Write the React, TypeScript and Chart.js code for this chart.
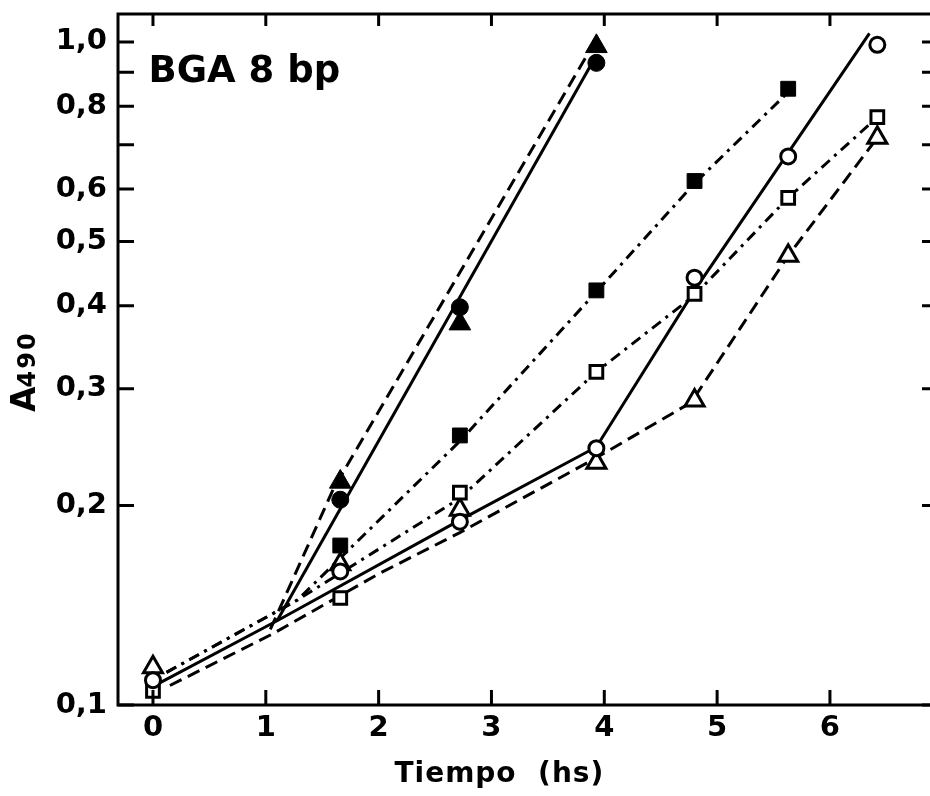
import React, { useEffect, useRef } from "react";
import { Chart, registerables } from "chart.js";

Chart.register(...registerables);

// ---- axis ticks ----
const xTickValues = [0, 1, 2, 3, 4, 5, 6];
const yTickValues = [0.1, 0.2, 0.3, 0.4, 0.5, 0.6, 0.7, 0.8, 0.9, 1.0];
const yTickLabels: Record<string, string> = {
  "0.1": "0,1",
  "0.2": "0,2",
  "0.3": "0,3",
  "0.4": "0,4",
  "0.5": "0,5",
  "0.6": "0,6",
  "0.8": "0,8",
  "1.0": "1,0",
};

// ---- measured points (markers) ----
const xOpen = [0, 1.66, 2.72, 3.93, 4.8, 5.63, 6.42];
const openCircleY = [0.109, 0.159, 0.189, 0.244, 0.441, 0.672, 0.99];
const openSquareY = [0.105, 0.145, 0.209, 0.318, 0.417, 0.582, 0.77];
const openTriangleY = [0.114, 0.163, 0.197, 0.232, 0.288, 0.476, 0.717];

const xFilled = [1.66, 2.72, 3.93];
const filledCircleY = [0.204, 0.398, 0.93];
const filledTriangleY = [0.217, 0.376, 0.985];

const xFilledSquare = [1.66, 2.72, 3.93, 4.8, 5.63];
const filledSquareY = [0.174, 0.255, 0.422, 0.617, 0.85];

// ---- drawn curves (vertices) ----
const solidOpenX = [0.06, 1.1, 2.72, 3.93, 4.8, 6.35];
const solidOpenY = [0.108, 0.134, 0.19, 0.245, 0.422, 1.03];
const solidFilledX = [1.1, 3.9];
const solidFilledY = [0.134, 0.935];

const dashedOpenX = [0.15, 1.06, 2.01, 2.72, 3.93, 4.77, 5.63, 6.42];
const dashedOpenY = [0.107, 0.128, 0.158, 0.182, 0.236, 0.286, 0.476, 0.717];
const dashedFilledX = [1.04, 1.6, 3.9];
const dashedFilledY = [0.13, 0.212, 0.99];

const dashDotFilledX = [0.12, 1.28, 2.72, 3.93, 4.8, 5.63];
const dashDotFilledY = [0.112, 0.144, 0.25, 0.42, 0.612, 0.84];
const dashDotOpenX = [0.12, 1.28, 2.72, 3.93, 4.8, 5.63, 6.42];
const dashDotOpenY = [0.112, 0.144, 0.205, 0.318, 0.415, 0.582, 0.77];

const toPts = (xs: number[], ys: number[]) => xs.map((x, i) => ({ x, y: ys[i] }));

const DASH = [13, 7];
const DASHDOT = [11, 6, 3, 6];

const tickFont = { family: "'DejaVu Sans', sans-serif", size: 29, weight: "bold" as const };

const framePlugin = {
  id: "framePlugin",
  afterDraw(chart: any) {
    const { ctx, chartArea: a, scales } = chart;
    const xs = scales.x;
    const ys = scales.y;
    ctx.save();
    ctx.strokeStyle = "#000";
    ctx.lineWidth = 3;
    ctx.beginPath();
    ctx.moveTo(a.left, a.top);
    ctx.lineTo(a.right, a.top);
    ctx.lineTo(a.right, a.bottom);
    ctx.lineTo(a.left, a.bottom);
    ctx.closePath();
    ctx.stroke();

    ctx.beginPath();
    xTickValues.forEach((v) => {
      const px = xs.getPixelForValue(v);
      ctx.moveTo(px, a.bottom);
      ctx.lineTo(px, a.bottom - 15);
      ctx.moveTo(px, a.top);
      ctx.lineTo(px, a.top + 12);
    });
    yTickValues.forEach((v) => {
      const py = ys.getPixelForValue(v);
      ctx.moveTo(a.left, py);
      ctx.lineTo(a.left + 16, py);
      ctx.moveTo(a.right, py);
      ctx.lineTo(a.right - 14, py);
    });
    ctx.stroke();

    ctx.fillStyle = "#000";
    // panel title
    ctx.font = "bold 37px 'DejaVu Sans', sans-serif";
    ctx.textAlign = "left";
    ctx.textBaseline = "alphabetic";
    ctx.fillText("BGA 8 bp", xs.getPixelForValue(-0.04), 82);

    // x axis title
    ctx.font = "bold 28px 'DejaVu Sans', sans-serif";
    (ctx as any).letterSpacing = "1px";
    ctx.textAlign = "center";
    ctx.fillText("Tiempo  (hs)", xs.getPixelForValue(3.07), 782);
    (ctx as any).letterSpacing = "0px";

    // y axis title A490 (rotated)
    ctx.translate(35, 412);
    ctx.rotate(-Math.PI / 2);
    ctx.textAlign = "left";
    ctx.font = "bold 33px 'DejaVu Sans', sans-serif";
    ctx.fillText("A", 0, 0);
    const wA = ctx.measureText("A").width;
    ctx.font = "bold 24px 'DejaVu Sans', sans-serif";
    (ctx as any).letterSpacing = "2px";
    ctx.fillText("490", wA - 1, 0);
    (ctx as any).letterSpacing = "0px";
    ctx.restore();
  },
};

export default function App() {
  const ref = useRef<HTMLCanvasElement | null>(null);

  useEffect(() => {
    const canvas = ref.current;
    if (!canvas) return;

    const lineDs = (xs: number[], ys: number[], dash: number[]) => ({
      data: toPts(xs, ys),
      showLine: true,
      borderColor: "#000",
      borderWidth: 3,
      borderDash: dash,
      borderCapStyle: "butt" as const,
      pointRadius: 0,
      pointHoverRadius: 0,
      fill: false,
      tension: 0,
    });
    const markerDs = (xs: number[], ys: number[], style: string, r: number, filled: boolean) => ({
      data: toPts(xs, ys),
      showLine: false,
      pointStyle: style,
      pointRadius: r,
      pointHoverRadius: r,
      pointBackgroundColor: filled ? "#000" : "#fff",
      pointBorderColor: "#000",
      pointBorderWidth: filled ? 1 : 3,
    });

    const zeroPad = (s: any) => {
      s.paddingTop = 0;
      s.paddingBottom = 0;
      s.paddingLeft = 0;
      s.paddingRight = 0;
    };

    const chart = new Chart(canvas, {
      type: "scatter",
      data: {
        datasets: [
          markerDs(xOpen, openCircleY, "circle", 7.5, false),
          markerDs(xOpen, openSquareY, "rect", 9, false),
          markerDs(xOpen, openTriangleY, "triangle", 11, false),
          markerDs(xFilled, filledCircleY, "circle", 8.5, true),
          markerDs(xFilled, filledTriangleY, "triangle", 12.5, true),
          markerDs(xFilledSquare, filledSquareY, "rect", 10.5, true),
          lineDs(solidOpenX, solidOpenY, []),
          lineDs(solidFilledX, solidFilledY, []),
          lineDs(dashedOpenX, dashedOpenY, DASH),
          lineDs(dashedFilledX, dashedFilledY, DASH),
          lineDs(dashDotFilledX, dashDotFilledY, DASHDOT),
          lineDs(dashDotOpenX, dashDotOpenY, DASHDOT),
        ] as any,
      },
      options: {
        animation: false,
        responsive: false,
        devicePixelRatio: 1,
        layout: { padding: { top: 13, right: 5, left: 0, bottom: 0 } },
        plugins: {
          legend: { display: false },
          tooltip: { enabled: false },
          title: { display: false },
        },
        scales: {
          x: {
            type: "linear",
            min: -0.31,
            max: 6.94,
            afterBuildTicks: (s: any) => {
              s.ticks = xTickValues.map((v) => ({ value: v }));
            },
            afterFit: (s: any) => {
              s.height = 91;
              zeroPad(s);
            },
            grid: { display: false, drawTicks: false },
            border: { display: false },
            ticks: {
              padding: 6,
              color: "#000",
              font: tickFont,
              maxRotation: 0,
              autoSkip: false,
              callback: (v: any) => String(v),
            },
          },
          y: {
            type: "logarithmic",
            min: 0.1,
            max: 1.102,
            afterBuildTicks: (s: any) => {
              s.ticks = yTickValues.map((v) => ({ value: v }));
            },
            afterFit: (s: any) => {
              s.width = 118;
              zeroPad(s);
            },
            grid: { display: false, drawTicks: false },
            border: { display: false },
            ticks: {
              padding: 11,
              color: "#000",
              font: tickFont,
              autoSkip: false,
              callback: (v: any) => yTickLabels[Number(v).toFixed(1)] ?? "",
            },
          },
        },
      } as any,
      plugins: [framePlugin],
    });
    return () => chart.destroy();
  }, []);

  return (
    <div style={{ position: "absolute", left: 0, top: 0, width: 930, height: 796, overflow: "hidden", background: "#fff" }}>
      <canvas ref={ref} width={950} height={796} style={{ display: "block", width: 950, height: 796 }} />
    </div>
  );
}
